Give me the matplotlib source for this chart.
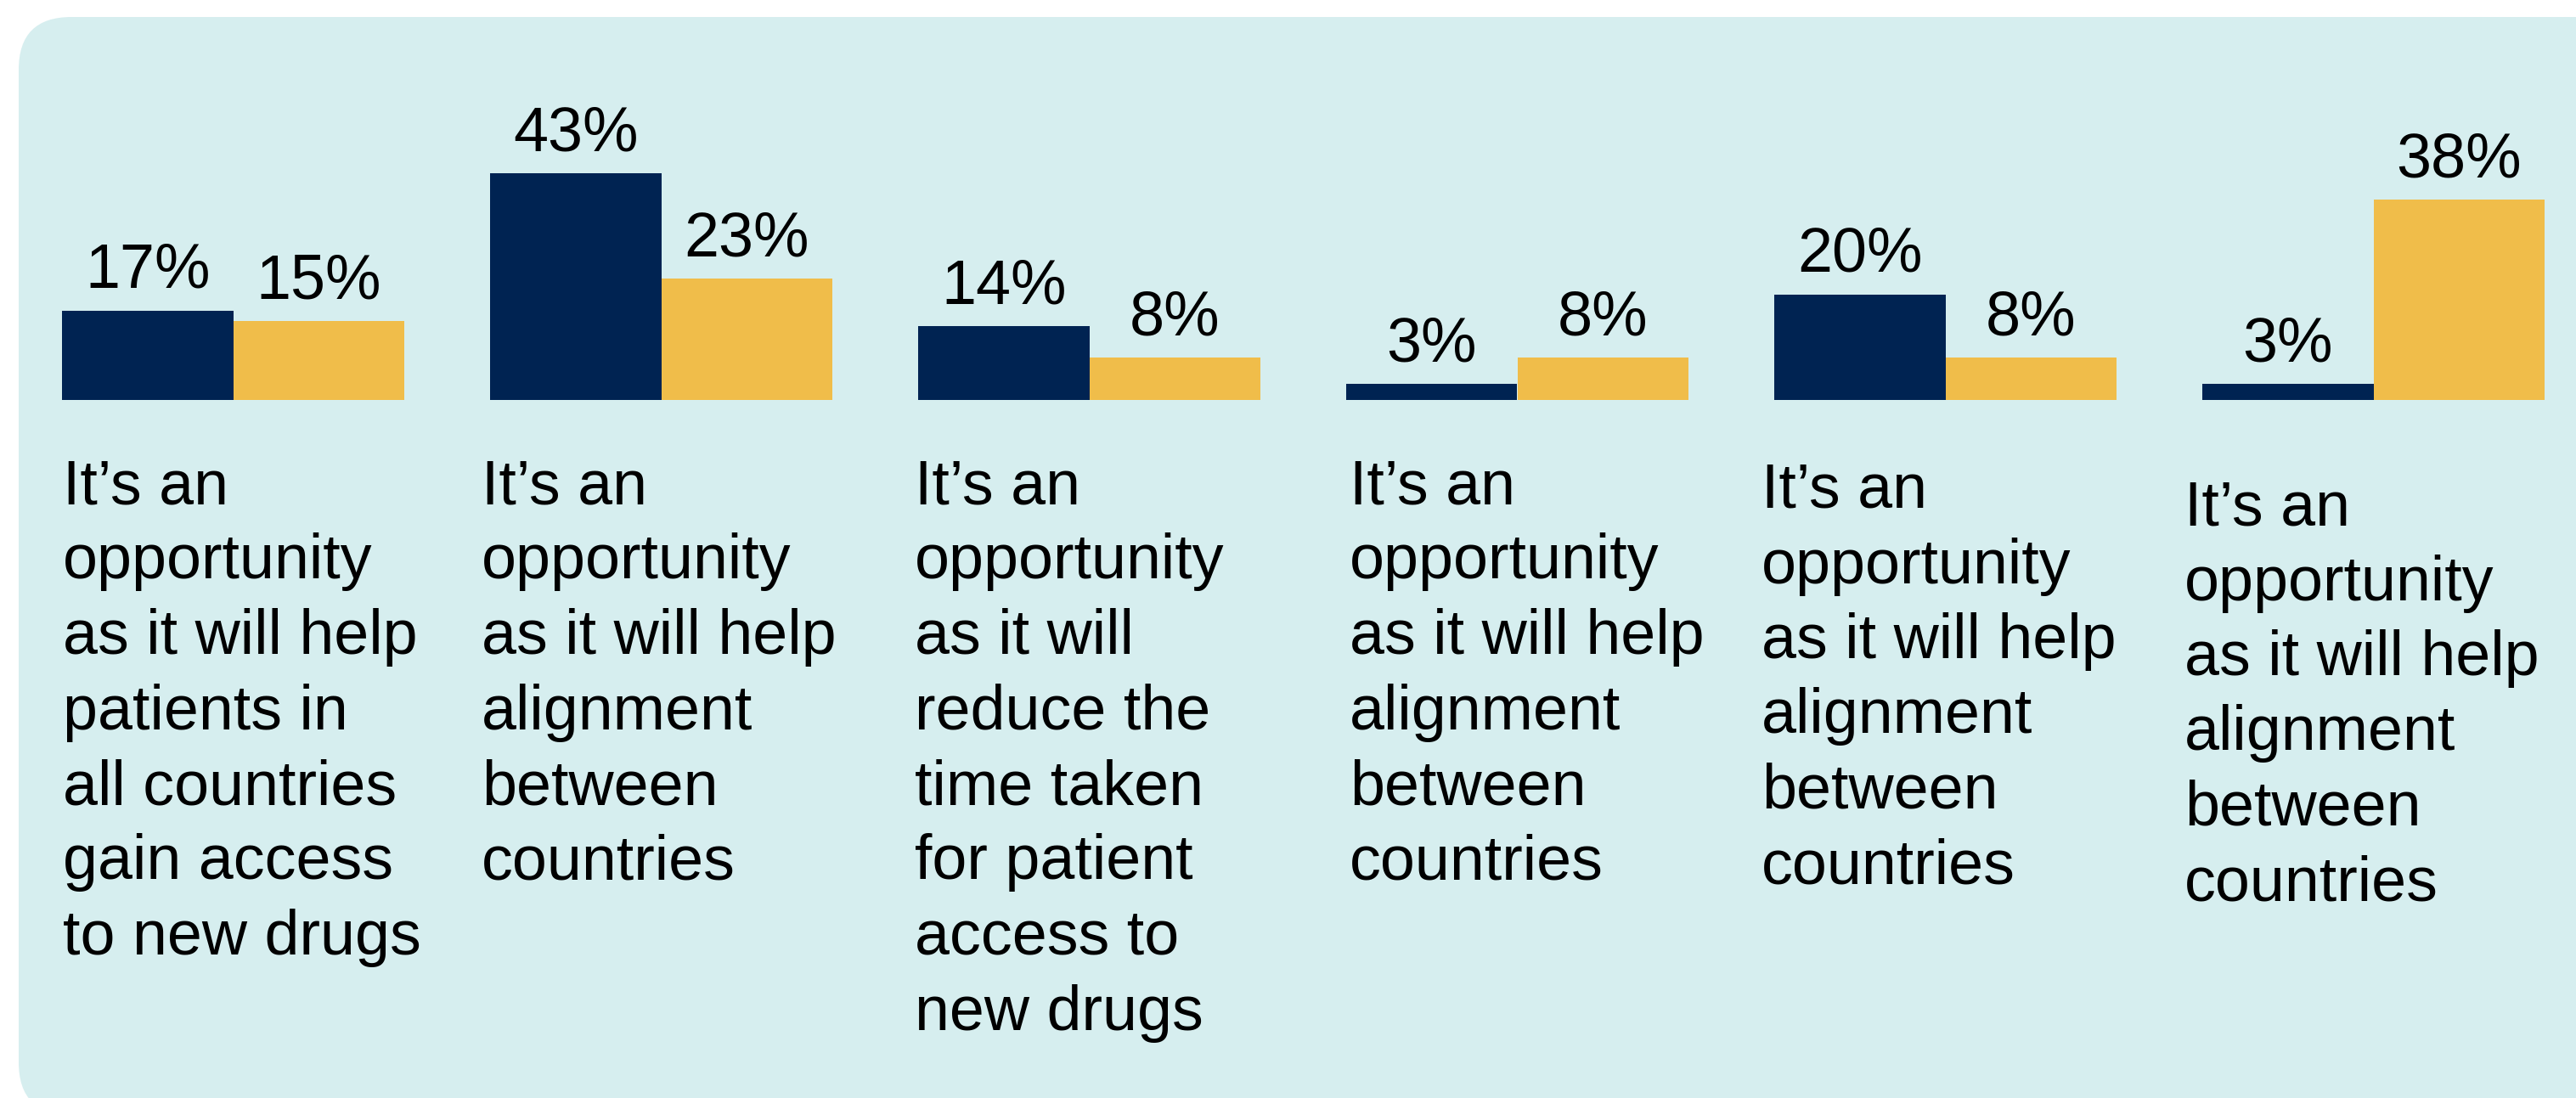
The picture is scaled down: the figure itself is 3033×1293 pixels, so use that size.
import matplotlib
matplotlib.use("Agg")
import matplotlib.pyplot as plt
from matplotlib.patches import FancyBboxPatch
import numpy as np

# ---- data ----
categories = [
    "It\u2019s an\nopportunity\nas it will help\npatients in\nall countries\ngain access\nto new drugs",
    "It\u2019s an\nopportunity\nas it will help\nalignment\nbetween\ncountries",
    "It\u2019s an\nopportunity\nas it will\nreduce the\ntime taken\nfor patient\naccess to\nnew drugs",
    "It\u2019s an\nopportunity\nas it will help\nalignment\nbetween\ncountries",
    "It\u2019s an\nopportunity\nas it will help\nalignment\nbetween\ncountries",
    "It\u2019s an\nopportunity\nas it will help\nalignment\nbetween\ncountries",
]
series_navy = [17, 43, 14, 3, 20, 3]
series_yellow = [15, 23, 8, 8, 8, 38]

# ---- style / layout ----
W, H, DPI = 3033, 1293, 100
NAVY = "#002352"
YELLOW = "#F0BD4A"
BG = "#D6EEEF"
FONT = "Liberation Sans"
FS = 53

label_x_px = [74, 567, 1077, 1589, 2074, 2572]      # left edge of category text
label_y_px = [593, 593, 593, 593, 598, 618]         # baseline of first line (from top)
line_pitch_px = 88.5

fig = plt.figure(figsize=(W / DPI, H / DPI), dpi=DPI)
fig.patch.set_facecolor("white")

bg = FancyBboxPatch((22, -20), 3200, 1293 - 20 + 20, boxstyle="round,pad=0,rounding_size=62",
                    transform=None, facecolor=BG, edgecolor="none", zorder=-5)
fig.patches.append(bg)

baseline_px = 471
px_per_pct = 6.2
top_pct = 50
ax_bottom = (H - baseline_px) / H
ax_height = top_pct * px_per_pct / H
ax = fig.add_axes([0, ax_bottom, 1, ax_height])
ax.set_zorder(2)
ax.set_facecolor("none")
x0 = 274.5
spacing = 504.0
ax.set_xlim(-x0 / spacing, (W - x0) / spacing)
ax.set_ylim(0, top_pct)
ax.axis("off")

x = np.arange(len(categories))
bw = 0.4
b1 = ax.bar(x - bw / 2, series_navy, width=bw, color=NAVY, zorder=2)
b2 = ax.bar(x + bw / 2, series_yellow, width=bw, color=YELLOW, zorder=2)

for bars, vals in ((b1, series_navy), (b2, series_yellow)):
    for rect, v in zip(bars, vals):
        ax.annotate(f"{v}%", (rect.get_x() + rect.get_width() / 2, rect.get_height()),
                    xytext=(0, 27 * 72 / DPI), textcoords="offset points",
                    ha="center", va="baseline", fontsize=FS, family=FONT, color="black",
                    annotation_clip=False)

for txt, lx, ly in zip(categories, label_x_px, label_y_px):
    for k, line in enumerate(txt.split("\n")):
        fig.text(lx / W, 1 - (ly + k * line_pitch_px) / H, line, ha="left", va="baseline",
                 fontsize=FS, family=FONT, color="black", zorder=3)

fig.savefig("out.png", dpi=DPI, facecolor="white")
